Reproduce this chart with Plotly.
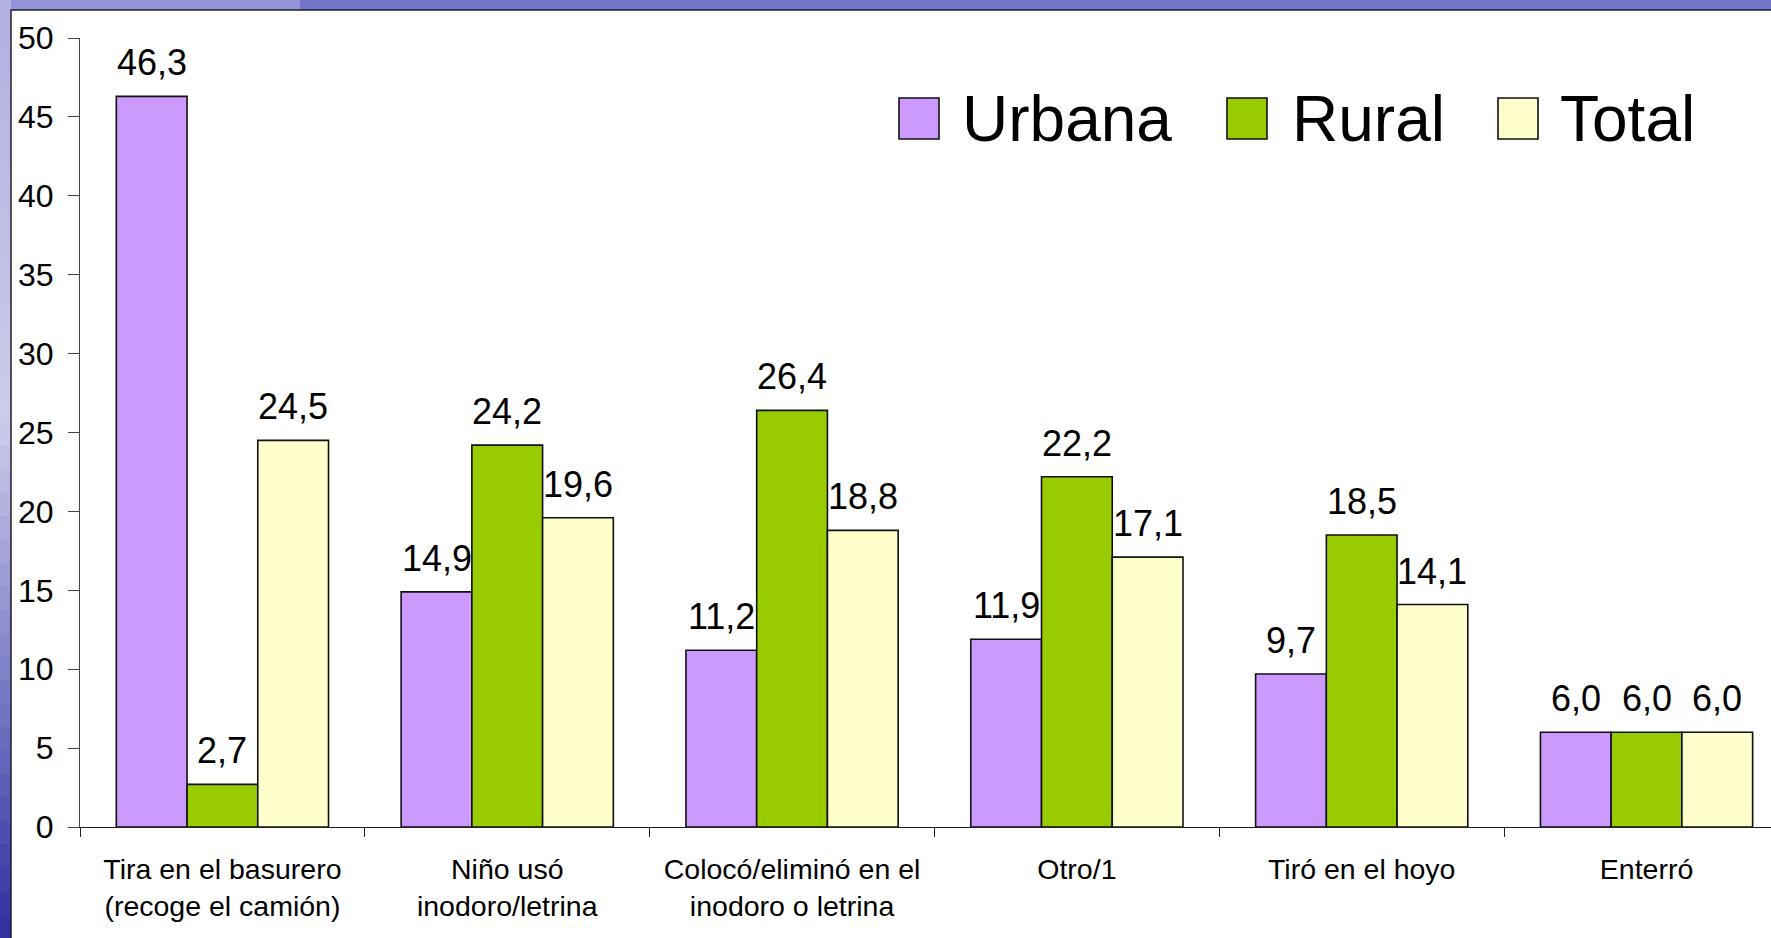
import plotly.graph_objects as go

# ---------------- data ----------------
categories = [
    "Tira en el basurero<br>(recoge el camión)",
    "Niño usó<br>inodoro/letrina",
    "Colocó/eliminó en el<br>inodoro o letrina",
    "Otro/1",
    "Tiró en el hoyo",
    "Enterró",
]
series_names = ["Urbana", "Rural", "Total"]
urbana = [46.3, 14.9, 11.2, 11.9, 9.7, 6.0]
rural = [2.7, 24.2, 26.4, 22.2, 18.5, 6.0]
total = [24.5, 19.6, 18.8, 17.1, 14.1, 6.0]
y_ticks = [0, 5, 10, 15, 20, 25, 30, 35, 40, 45, 50]

colors = ["#CC99FF", "#99CC00", "#FFFFCC"]
series_values = [urbana, rural, total]

# ---------------- layout geometry ----------------
W, H = 1771, 938
ML, MR, MT, MB = 80, 0, 38, 111
PW, PH = W - ML - MR, H - MT - MB
BARGAP = 0.255
FONT = "Arial, Liberation Sans, sans-serif"


def px(x):
    return (x - ML) / PW


def py(y):
    return (H - MB - y) / PH


def fmt(v):
    return f"{v:.1f}".replace(".", ",")


fig = go.Figure()
for name, vals, col in zip(series_names, series_values, colors):
    fig.add_trace(go.Bar(
        x=categories, y=vals, name=name, showlegend=False,
        marker=dict(color=col, line=dict(color="#111111", width=1.6)),
    ))

# value labels above bars
bw = (1 - BARGAP) / 3
annotations = []
for k, vals in enumerate(series_values):
    for i, v in enumerate(vals):
        annotations.append(dict(
            x=i + (k - 1) * bw, y=v, xref="x", yref="y",
            text=fmt(v), showarrow=False, yanchor="bottom",
            yshift=11, font=dict(family=FONT, size=36, color="#000000"),
        ))

# background decorations
shapes = []


def lerp(c1, c2, t):
    return "#%02x%02x%02x" % tuple(int(round(a + (b - a) * t)) for a, b in zip(c1, c2))


stops = [(0.0, (176, 176, 224)), (0.45, (204, 204, 236)), (1.0, (46, 46, 158))]
N = 40
for j in range(N):
    t = (j + 0.5) / N
    for (t0, c0), (t1, c1) in zip(stops[:-1], stops[1:]):
        if t0 <= t <= t1:
            col = lerp(c0, c1, (t - t0) / (t1 - t0))
            break
    y0 = H * j / N
    y1 = H * (j + 1) / N + 1
    shapes.append(dict(type="rect", xref="paper", yref="paper", layer="below",
                       x0=px(-1), x1=px(12), y0=py(y1), y1=py(y0),
                       fillcolor=col, line=dict(width=0)))
# top strip
shapes.append(dict(type="rect", xref="paper", yref="paper", layer="below",
                   x0=px(11), x1=px(W + 5), y0=py(11), y1=py(-1),
                   fillcolor="#7474c8", line=dict(width=0)))
shapes.append(dict(type="rect", xref="paper", yref="paper", layer="below",
                   x0=px(11), x1=px(300), y0=py(11), y1=py(-1),
                   fillcolor="#9494d8", line=dict(width=0)))
# white panel
shapes.append(dict(type="rect", xref="paper", yref="paper", layer="below",
                   x0=px(11), x1=px(W + 10), y0=py(H + 10), y1=py(10),
                   fillcolor="#ffffff", line=dict(color="#1e1e30", width=1.5)))

# manual legend
legend_items = [(899, 960), (1227, 1290), (1498, 1558)]
for (bx, tx), name, col in zip(legend_items, series_names, colors):
    shapes.append(dict(type="rect", xref="paper", yref="paper",
                       x0=px(bx), x1=px(bx + 40), y0=py(139), y1=py(98),
                       fillcolor=col, line=dict(color="#111111", width=1.6)))
    annotations.append(dict(x=px(tx), y=py(119), xref="paper", yref="paper",
                            text=name, showarrow=False, xanchor="left", yanchor="middle",
                            font=dict(family=FONT, size=64, color="#000000")))

fig.update_layout(
    width=W, height=H,
    margin=dict(l=ML, r=MR, t=MT, b=MB, pad=0),
    barmode="group", bargap=BARGAP, bargroupgap=0,
    paper_bgcolor="#7474c8", plot_bgcolor="#ffffff",
    font=dict(family=FONT, color="#000000"),
    shapes=shapes, annotations=annotations,
    xaxis=dict(
        type="category", range=[-0.5, 5.437], showgrid=False,
        showline=True, linecolor="#222222", linewidth=1,
        ticks="outside", tickson="boundaries", ticklen=9, tickcolor="#222222",
        tickfont=dict(family=FONT, size=28.5, color="#000000"),
        ticklabelstandoff=17, fixedrange=True,
    ),
    yaxis=dict(
        range=[0, 50], tickvals=y_ticks, showgrid=False, zeroline=False,
        showline=True, linecolor="#444444", linewidth=1,
        ticks="outside", ticklen=11, tickcolor="#444444",
        tickfont=dict(family=FONT, size=32, color="#000000"),
        ticklabelstandoff=8, fixedrange=True,
    ),
)

fig.write_html(
    "out.html",
    config={"displayModeBar": False},
    post_script="document.body.style.margin='0';document.body.style.overflow='hidden';",
)
